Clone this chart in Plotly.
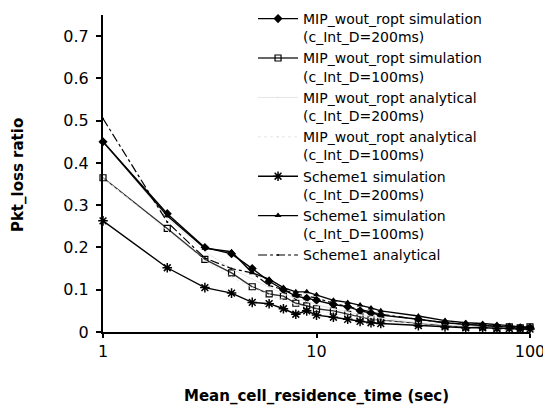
import plotly.graph_objects as go

x_vals = [1, 2, 3, 4, 5, 6, 7, 8, 9, 10, 12, 14, 16, 18, 20, 30, 40, 50, 60, 70, 80, 90, 100]

mip_sim_200 = [0.45, 0.28, 0.20, 0.185, 0.15, 0.12, 0.10, 0.085, 0.08, 0.075, 0.065, 0.06, 0.05, 0.045, 0.04,
               0.03, 0.022, 0.018, 0.015, 0.013, 0.011, 0.01, 0.01]
mip_sim_100 = [0.365, 0.245, 0.172, 0.14, 0.107, 0.09, 0.085, 0.068, 0.062, 0.055, 0.05, 0.042, 0.035, 0.03, 0.028,
               0.02, 0.015, 0.012, 0.012, 0.01, 0.012, 0.01, 0.012]
mip_ana_200 = [0.45, 0.27, 0.19, 0.15, 0.125, 0.105, 0.09, 0.08, 0.072, 0.065, 0.055, 0.047, 0.041, 0.037, 0.033,
               0.022, 0.017, 0.013, 0.011, 0.01, 0.009, 0.008, 0.007]
mip_ana_100 = [0.365, 0.24, 0.17, 0.13, 0.105, 0.088, 0.075, 0.066, 0.058, 0.052, 0.044, 0.038, 0.033, 0.03, 0.027,
               0.018, 0.013, 0.011, 0.009, 0.008, 0.007, 0.006, 0.006]
sch_sim_200 = [0.263, 0.152, 0.105, 0.092, 0.07, 0.067, 0.055, 0.042, 0.05, 0.04, 0.035, 0.03, 0.025, 0.022, 0.02,
               0.015, 0.012, 0.01, 0.01, 0.008, 0.008, 0.007, 0.007]
sch_sim_100 = [0.45, 0.275, 0.198, 0.19, 0.14, 0.125, 0.105, 0.095, 0.095, 0.088, 0.075, 0.07, 0.064, 0.057, 0.05,
               0.038, 0.027, 0.022, 0.02, 0.018, 0.015, 0.012, 0.012]
sch_ana = [0.505, 0.26, 0.175, 0.15, 0.14, 0.11, 0.10, 0.09, 0.085, 0.08, 0.068, 0.06, 0.052, 0.046, 0.042,
           0.03, 0.022, 0.018, 0.015, 0.013, 0.012, 0.01, 0.01]

names = [
    "MIP_wout_ropt simulation<br>(c_Int_D=200ms)",
    "MIP_wout_ropt simulation<br>(c_Int_D=100ms)",
    "MIP_wout_ropt analytical<br>(c_Int_D=200ms)",
    "MIP_wout_ropt analytical<br>(c_Int_D=100ms)",
    "Scheme1 simulation<br>(c_Int_D=200ms)",
    "Scheme1 simulation<br>(c_Int_D=100ms)",
    "Scheme1 analytical",
]
y_title = "Pkt_loss ratio"
x_title = "Mean_cell_residence_time (sec)"
y_ticks = [0, 0.1, 0.2, 0.3, 0.4, 0.5, 0.6, 0.7]
y_tick_text = ["0", "0.1", "0.2", "0.3", "0.4", "0.5", "0.6", "0.7"]
x_ticks = [1, 10, 100]
x_tick_text = ["1", "10", "100"]

fig = go.Figure()
styles = [
    (mip_sim_200, dict(color="black", width=1.4), dict(symbol="diamond", size=7, color="black")),
    (mip_sim_100, dict(color="#333333", width=1.4), dict(symbol="square-open", size=6, color="black", line=dict(width=1.2))),
    (mip_ana_200, dict(color="#e6e6e6", width=1), dict(size=1, color="#e6e6e6")),
    (mip_ana_100, dict(color="#e6e6e6", width=1, dash="dot"), dict(size=1, color="#e6e6e6")),
    (sch_sim_200, dict(color="black", width=1.4), dict(symbol="asterisk-open", size=8, color="black", line=dict(width=1.5, color="black"))),
    (sch_sim_100, dict(color="black", width=1.4), dict(symbol="triangle-up", size=6, color="black")),
    (sch_ana, dict(color="black", width=1.2, dash="dashdot"), dict(symbol="circle", size=2, color="black")),
]
for (vals, ln, mk), nm in zip(styles, names):
    fig.add_trace(go.Scatter(x=x_vals, y=vals, name=nm, mode="lines+markers", line=ln, marker=mk, cliponaxis=False))

fig.update_layout(
    width=543, height=407,
    margin=dict(l=103, r=13, t=15, b=75, autoexpand=False),
    paper_bgcolor="white", plot_bgcolor="white",
    font=dict(family="DejaVu Sans", color="black", size=14),
    showlegend=True,
    legend=dict(x=0.466, y=0.9926, xref="container", yref="container",
                xanchor="left", yanchor="top", bgcolor="rgba(0,0,0,0)",
                font=dict(size=14, family="DejaVu Sans"), valign="top", tracegroupgap=0,
                itemwidth=40, maxheight=1),
    xaxis=dict(type="log", range=[0, 2], tickvals=x_ticks, ticktext=x_tick_text, automargin=False,
               showgrid=False, zeroline=False, showline=True, linecolor="black", linewidth=2,
               ticks="outside", ticklen=4, tickwidth=1.5, tickcolor="black",
               ticklabeloverflow="allow", tickfont=dict(size=16)),
    yaxis=dict(range=[0, 0.75], tickvals=y_ticks, ticktext=y_tick_text, automargin=False,
               showgrid=False, zeroline=False, showline=True, linecolor="black", linewidth=2,
               ticks="outside", ticklen=5, tickwidth=1.5, tickcolor="black", ticklabelstandoff=4,
               tickfont=dict(size=16)),
    annotations=[
        dict(text="<b>" + y_title + "</b>", xref="paper", yref="paper", x=-0.199, y=0.495,
             xanchor="center", yanchor="middle", textangle=-90, showarrow=False, font=dict(size=15)),
        dict(text="<b>" + x_title + "</b>", xref="paper", yref="paper", x=0.5, y=-64 / 317,
             xanchor="center", yanchor="middle", showarrow=False, font=dict(size=15)),
    ],
)

fig.write_html("out.html", post_script="document.body.style.margin='0';",
               config={"displayModeBar": False})
